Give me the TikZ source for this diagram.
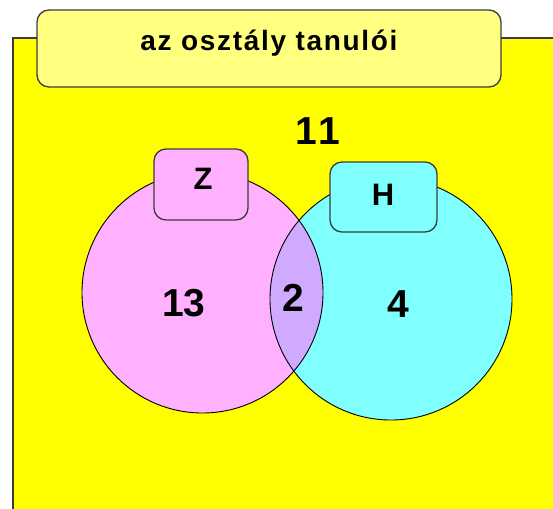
\documentclass[tikz,border=0pt]{standalone}
\usepackage{fontspec}
\setmainfont{Liberation Sans}
\newfontfamily\titelschrift[LetterSpace=6]{Liberation Sans}
\newfontfamily\zahlschrift[Kerning=Off, Ligatures=NoCommon]{Liberation Sans}

\definecolor{grundgelb}{RGB}{255, 255, 0}
\definecolor{titelgelb}{RGB}{255, 255, 128}
\definecolor{zrosa}{RGB}{255, 176, 255}
\definecolor{hcyan}{RGB}{128, 255, 255}
\definecolor{schnittlila}{RGB}{208, 170, 255}
\definecolor{rahmengrau}{RGB}{60, 60, 60}

\begin{document}
\begin{tikzpicture}[x=1pt, y=-1pt, % Pixelkoordinaten, y nach unten
	kasten/.style={draw=rahmengrau, line width=1.3pt, rounded corners=12pt},
	kreislinie/.style={draw=black, line width=0.9pt},
	zahl/.style={font=\zahlschrift\fontsize{39}{39}\selectfont\bfseries, inner sep=0pt},
	marke/.style={font=\fontsize{31}{31}\selectfont\bfseries, inner sep=0pt}]
	
	\clip (0,0) rectangle (553,508);
	\fill[white] (0,0) rectangle (553,508);
	
	% Grundmenge (gelbes Feld)
	\draw[fill=grundgelb, draw=rahmengrau, line width=1.5pt] (13,38) rectangle (600,560);
	
	% Titelkasten
	\draw[kasten, fill=titelgelb] (37,10) rectangle (501,87);
	\node[font=\titelschrift\fontsize{28}{28}\selectfont\bfseries, inner sep=0pt] (titel) at (269,43) {az osztály tanulói};
	
	% Die beiden Mengen
	\fill[zrosa] (202.5,292.5) circle (120.5pt);
	\fill[hcyan] (391,299) circle (121pt);
	
	% Schnittmenge
	\begin{scope}
		\clip (202.5,292.5) circle (120.5pt);
		\fill[schnittlila] (391,299) circle (121pt);
	\end{scope}
	
	\draw[kreislinie] (202.5,292.5) circle (120.5pt);
	\draw[kreislinie] (391,299) circle (121pt);
	
	% Beschriftungskaesten der Mengen
	\draw[kasten, fill=zrosa] (154,149) rectangle (248,220);
	\draw[kasten, fill=hcyan] (330,162) rectangle (437,232);
	\node[marke] (z) at (203,178.5) {Z};
	\node[marke] (h) at (383,194.5) {H};
	
	% Anzahlen
	\node[zahl] (aussen) at (318,131) {1\kern0.02em 1};
	\node[zahl] (nurz) at (184,303) {13};
	\node[zahl] (beide) at (293,297.5) {2};
	\node[zahl] (nurh) at (398,304.5) {4};
	
\end{tikzpicture}
\end{document}
